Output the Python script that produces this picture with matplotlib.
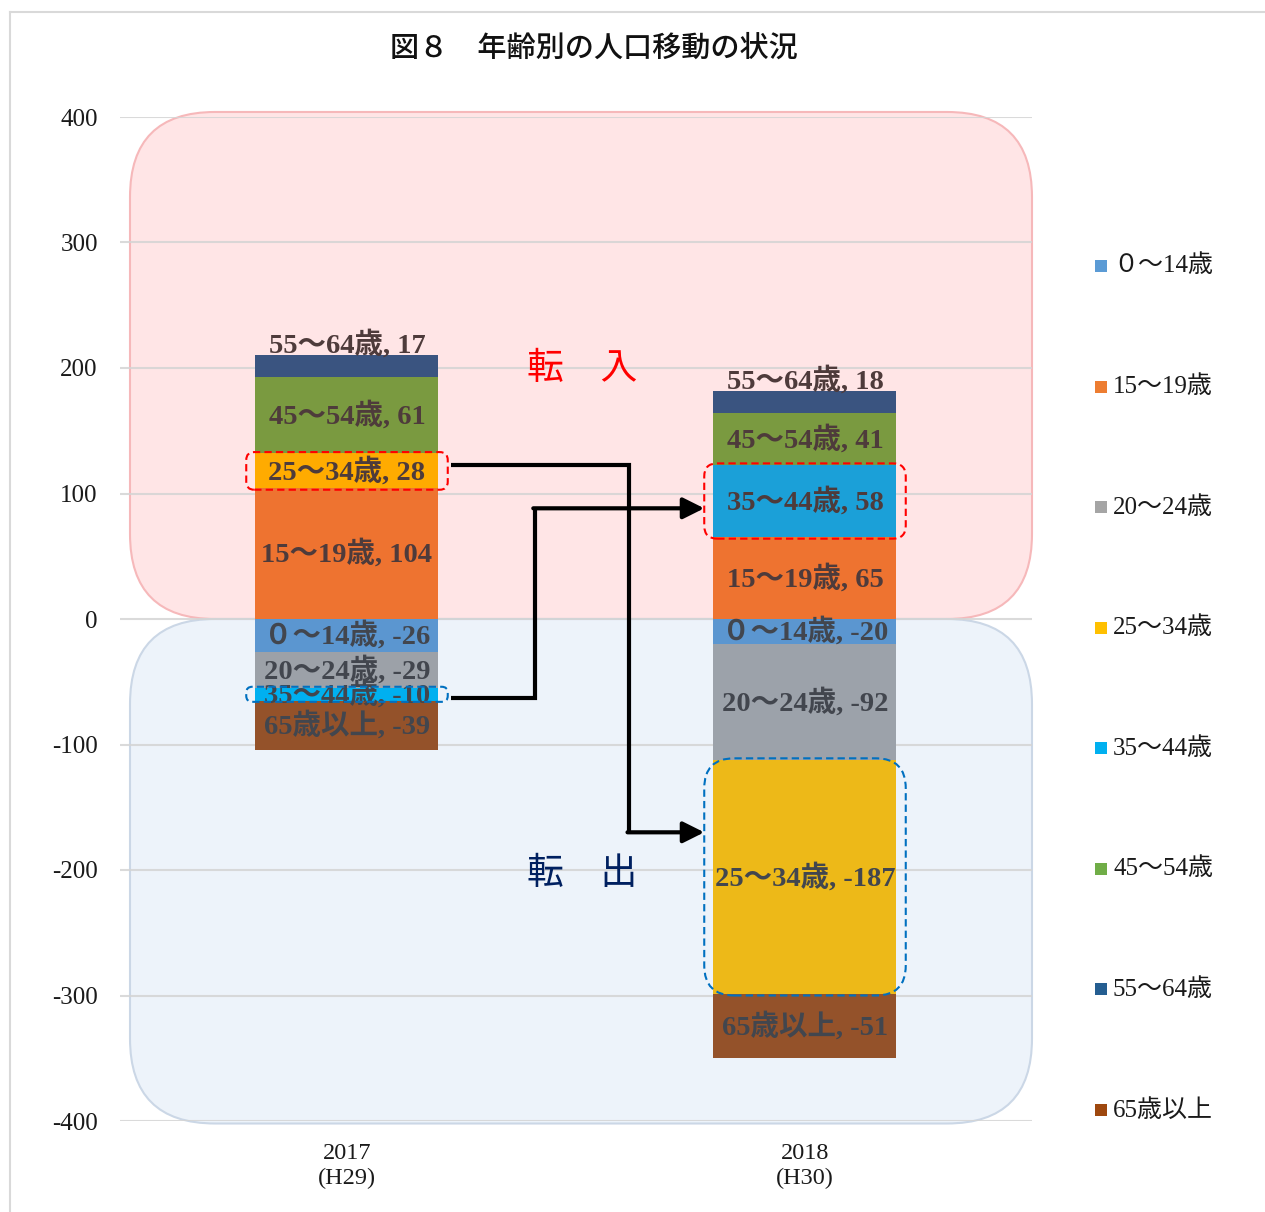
import matplotlib
matplotlib.use("Agg")
import matplotlib.pyplot as plt
from matplotlib.patches import FancyBboxPatch, Rectangle
from matplotlib.lines import Line2D

# ---------------- data ----------------
years = ["2017\n(H29)", "2018\n(H30)"]
categories = ["０～14歳", "15～19歳", "20～24歳", "25～34歳",
              "35～44歳", "45～54歳", "55～64歳", "65歳以上"]
values_2017 = [-26, 104, -29, 28, -10, 61, 17, -39]
values_2018 = [-20, 65, -92, -187, 58, 41, 18, -51]
yticks = [400, 300, 200, 100, 0, -100, -200, -300, -400]
title = "図８　年齢別の人口移動の状況"
zone_in = "転　入"
zone_out = "転　出"

# ---------------- style ----------------
legend_colors = ["#5B9BD5", "#ED7D31", "#A5A5A5", "#FFC000",
                 "#00B0F0", "#70AD47", "#255E91", "#9E480E"]
bar_colors = [
    ["#5B96D0", "#EE7330", "#9CA1A8", "#FFAB00", "#00B0F0", "#7A9A40", "#3A5480", "#94522A"],
    ["#5B96D0", "#EE7330", "#9CA2AA", "#EDB918", "#1BA0D8", "#7A9A40", "#3A5480", "#94522A"],
]
label_up_px = {6: 22}  # push small top-segment labels upward (pixels)

W, H = 1265, 1212
fig = plt.figure(figsize=(W / 100, H / 100), dpi=100)
ax_l, ax_r, ax_t, ax_b = 120, 1032, 117, 1121
ax = fig.add_axes([ax_l / W, 1 - ax_b / H, (ax_r - ax_l) / W, (ax_b - ax_t) / H])
x_pos = [0, 1]
XPX = 458.0                      # pixels per x unit
x_lo = -(347 - ax_l) / XPX
x_hi = 1 + (ax_r - 805) / XPX
ax.set_xlim(x_lo, x_hi)
ax.set_ylim(-400, 400)
YPX = (ax_b - ax_t) / 800.0      # pixels per y unit
ASPECT = XPX / YPX

serif = ["Liberation Serif", "Noto Sans CJK JP"]
cjk = ["Noto Sans CJK JP", "DejaVu Sans"]

# zone rounded rectangles
rx = 85 / XPX
zx0 = (130 - 347) / XPX
pink = FancyBboxPatch((zx0, 0), x_hi - zx0, 404,
                      boxstyle=f"round,pad=0,rounding_size={rx}", mutation_aspect=ASPECT,
                      facecolor="#FFE5E6", edgecolor="#F6B8BA", lw=1.5, zorder=0.2, clip_on=False)
blue = FancyBboxPatch((zx0, -402), x_hi - zx0, 402,
                      boxstyle=f"round,pad=0,rounding_size={rx}", mutation_aspect=ASPECT,
                      facecolor="#EDF3FA", edgecolor="#CBD7E6", lw=1.5, zorder=0.2, clip_on=False)
ax.add_patch(pink)
ax.add_patch(blue)

# gridlines
for yv in yticks:
    ax.axhline(yv, color="#D4D4D4", lw=1.5, zorder=0.5, alpha=0.85)

# stacked bars
bar_w = 183 / XPX
segments = {}
for bi, vals in enumerate([values_2017, values_2018]):
    pos_base, neg_base = 0, 0
    for ci, v in enumerate(vals):
        if v >= 0:
            bottom = pos_base
            pos_base += v
        else:
            bottom = neg_base
            neg_base += v
        ax.bar(x_pos[bi], v, bottom=bottom, width=bar_w, color=bar_colors[bi][ci],
               edgecolor="none", zorder=2)
        segments[(bi, ci)] = (min(bottom, bottom + v), max(bottom, bottom + v))
        yc = bottom + v / 2 + label_up_px.get(ci, 0) / YPX
        col = "#4E3B3B" if v >= 0 else "#42464E"
        ax.text(x_pos[bi], yc, f"{categories[ci]}, {v}", ha="center", va="center",
                fontsize=20.5, fontweight="bold", family=serif, color=col, zorder=4)

# highlight dashed boxes: (bar, category, colour, corner radius px)
highlights = [(0, 3, "#FF0000", 8), (0, 4, "#0070C0", 6),
              (1, 4, "#FF0000", 13), (1, 3, "#0070C0", 30)]
half_box = 0.22
for bi, ci, col, rpx in highlights:
    y0, y1 = segments[(bi, ci)]
    y0 -= 1.0
    y1 += 1.0
    p = FancyBboxPatch((x_pos[bi] - half_box, y0), 2 * half_box, y1 - y0,
                       boxstyle=f"round,pad=0,rounding_size={rpx / XPX}", mutation_aspect=ASPECT,
                       facecolor="none", edgecolor=col, lw=1.5, ls=(0, (3.5, 2)), zorder=5)
    ax.add_patch(p)

# arrows: (from bar, cat, fraction-from-top), (to bar, cat, fraction-from-top), corner x
arrows = [((0, 3, 0.33), (1, 3, 0.31), 0.6157),
          ((0, 4, 0.80), (1, 4, 0.60), 0.41)]
for (b0, c0, f0), (b1, c1, f1), xc in arrows:
    s0 = segments[(b0, c0)]
    s1 = segments[(b1, c1)]
    ya = s0[1] - f0 * (s0[1] - s0[0])
    yb = s1[1] - f1 * (s1[1] - s1[0])
    xa = x_pos[b0] + half_box + 3 / XPX
    xb = x_pos[b1] - half_box
    ax.plot([xa, xc, xc], [ya, ya, yb], color="black", lw=3, zorder=6,
            solid_joinstyle="miter", solid_capstyle="butt")
    ax.annotate("", xy=(xb, yb), xytext=(xc - 1.5 / XPX, yb),
                arrowprops=dict(arrowstyle="-|>,head_length=0.8,head_width=0.4", lw=3,
                                color="black", shrinkA=0, shrinkB=0, mutation_scale=16),
                zorder=6)

# zone labels
ax.text(0.513, 200, zone_in, ha="center", va="center", fontsize=26.5, color="#FF0000", family=cjk, zorder=3)
ax.text(0.513, -203, zone_out, ha="center", va="center", fontsize=26.5, color="#002060", family=cjk, zorder=3)

# axes styling
for s in ax.spines.values():
    s.set_visible(False)
ax.set_yticks(yticks)
ax.set_yticklabels([str(t) for t in yticks], family=serif, fontsize=18, color="#1A1A1A")
ax.set_xticks(x_pos)
ax.set_xticklabels(years, family=serif, fontsize=17.5, color="#1A1A1A", linespacing=1.25)
ax.tick_params(axis="y", length=0, pad=16)
ax.tick_params(axis="x", length=0, pad=16)
ax.set_facecolor("none")

# title
fig.text(594 / W, 1 - 48 / H, title, ha="center", va="center", fontsize=21,
         family=cjk, fontweight="medium", color="#111111")

# legend (manual)
for i, (cat, col) in enumerate(zip(categories, legend_colors)):
    ypx = 266 + i * 120.57
    fig.add_artist(Rectangle((1095 / W, 1 - (ypx + 6) / H), 12 / W, 12 / H,
                             transform=fig.transFigure, facecolor=col, edgecolor="none"))
    fig.text(1113 / W, 1 - ypx / H, cat, ha="left", va="center", fontsize=18,
             family=serif, color="#1A1A1A")

# outer frame (only left & top visible)
fig.add_artist(Line2D([10 / W, 10 / W], [0, 1 - 12 / H], transform=fig.transFigure,
                      color="#D9D9D9", lw=1.5))
fig.add_artist(Line2D([10 / W, 1], [1 - 12 / H, 1 - 12 / H], transform=fig.transFigure,
                      color="#D9D9D9", lw=1.5))

fig.savefig("out.png", dpi=100, facecolor="white")
